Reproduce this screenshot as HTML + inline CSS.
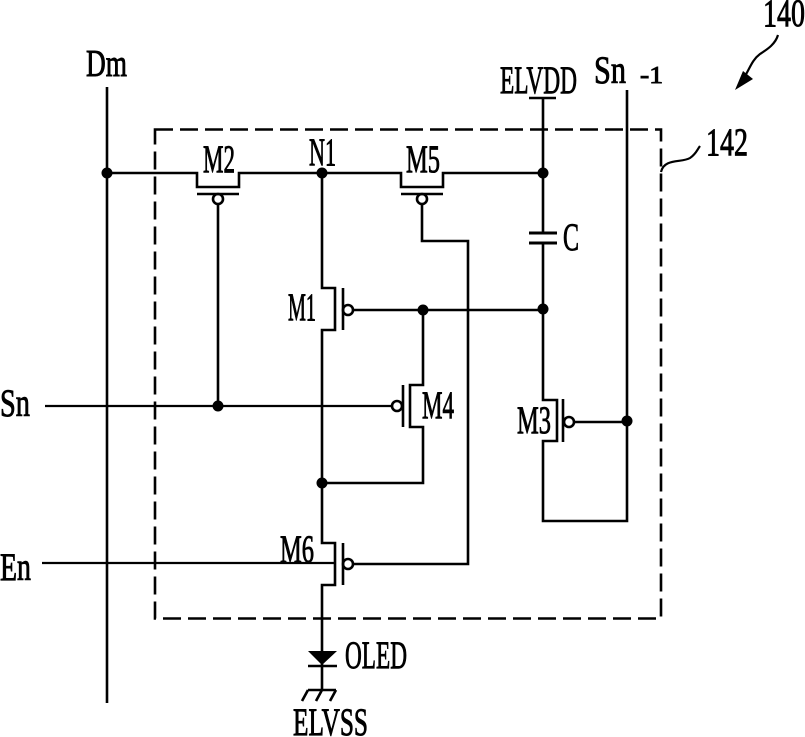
<!DOCTYPE html>
<html><head><meta charset="utf-8"><style>
html,body{margin:0;padding:0;background:#fff}
svg{display:block}
text{font-family:"Liberation Serif",serif;font-size:39px;fill:#000;stroke:#000;stroke-width:.9;}
</style></head><body>
<svg width="805" height="737" viewBox="0 0 805 737" xmlns="http://www.w3.org/2000/svg">
<rect width="805" height="737" fill="#fff"/>
<rect x="155" y="129.5" width="506" height="489" fill="none" stroke="#000" stroke-width="2.6" stroke-dasharray="18 7"/>
<g fill="none" stroke="#000" stroke-width="2.6">
<path d="M107 87V703"/>
<path d="M107 173H197V187H239V173H401V187H443V173H543"/>
<path d="M197 194H239M401 194H443"/>
<path d="M218 204V406"/>
<path d="M422 204V241H468V564H353"/>
<path d="M322 173V288H335V330H322V483V543H335V585H322V690"/>
<path d="M343 288V330M343 543V585"/>
<path d="M353 310H543"/>
<path d="M423 310V385H410V427H423V483H322"/>
<path d="M403 385V427"/>
<path d="M45 406H392" stroke-width="2.2"/>
<path d="M42 563H335" stroke-width="2.2"/>
<path d="M529 98H556"/>
<path d="M543 98V233M543 243V400H557V441H543V521H627V90"/>
<path d="M529 233H557M529 243H557" stroke-width="3"/>
<path d="M563 399V442"/>
<path d="M574 422H627"/>
<path d="M308 666H337"/>
<path d="M308 690H336M308 690L302 701M322 690L316 701M336 690L330 701"/>
<circle cx="218" cy="199" r="5"/>
<circle cx="422" cy="199" r="5"/>
<circle cx="348" cy="310" r="5"/>
<circle cx="348" cy="564" r="5"/>
<circle cx="397" cy="406" r="5"/>
<circle cx="569" cy="422" r="5"/>
<path d="M778 35C775 45 766 50 760 54C752 60 750 68 745 76" stroke-width="2.2"/>
<path d="M661 172C664 158 682 163 690 158C696 154 697 150 700 146" stroke-width="2.2"/>
</g>
<g fill="#000">
<circle cx="107" cy="173" r="5.5"/>
<circle cx="322" cy="173" r="5.5"/>
<circle cx="543" cy="173" r="5.5"/>
<circle cx="543" cy="309" r="5.5"/>
<circle cx="423" cy="310" r="5.5"/>
<circle cx="218" cy="406" r="5.5"/>
<circle cx="322" cy="483" r="5.5"/>
<circle cx="627" cy="421" r="5.5"/>
<path d="M308 651H337L322 665Z"/>
<path d="M735 90L743 71L753 79Z"/>
</g>
<text x="86" y="76" textLength="41" lengthAdjust="spacingAndGlyphs" style="font-size:38px">Dm</text>
<text x="203" y="172" textLength="32" lengthAdjust="spacingAndGlyphs">M2</text>
<text x="309" y="165" textLength="27" lengthAdjust="spacingAndGlyphs">N1</text>
<text x="406" y="172" textLength="34" lengthAdjust="spacingAndGlyphs">M5</text>
<text x="288" y="320" textLength="28" lengthAdjust="spacingAndGlyphs">M1</text>
<text x="422" y="418" textLength="32" lengthAdjust="spacingAndGlyphs">M4</text>
<text x="517" y="433" textLength="34" lengthAdjust="spacingAndGlyphs">M3</text>
<text x="280" y="562" textLength="34" lengthAdjust="spacingAndGlyphs">M6</text>
<text x="500" y="93" textLength="77" lengthAdjust="spacingAndGlyphs">ELVDD</text>
<text x="594" y="83" textLength="32" lengthAdjust="spacingAndGlyphs">Sn</text>
<text x="640" y="83" textLength="23" lengthAdjust="spacingAndGlyphs" style="font-size:24px">-1</text>
<text x="763" y="26" textLength="42" lengthAdjust="spacingAndGlyphs">140</text>
<text x="706" y="155" textLength="42" lengthAdjust="spacingAndGlyphs">142</text>
<text x="563" y="250" textLength="16" lengthAdjust="spacingAndGlyphs">C</text>
<text x="0" y="416" textLength="30" lengthAdjust="spacingAndGlyphs">Sn</text>
<text x="0" y="580" textLength="31" lengthAdjust="spacingAndGlyphs">En</text>
<text x="345" y="668" textLength="62" lengthAdjust="spacingAndGlyphs">OLED</text>
<text x="293" y="735" textLength="75" lengthAdjust="spacingAndGlyphs">ELVSS</text>
</svg>
</body></html>
